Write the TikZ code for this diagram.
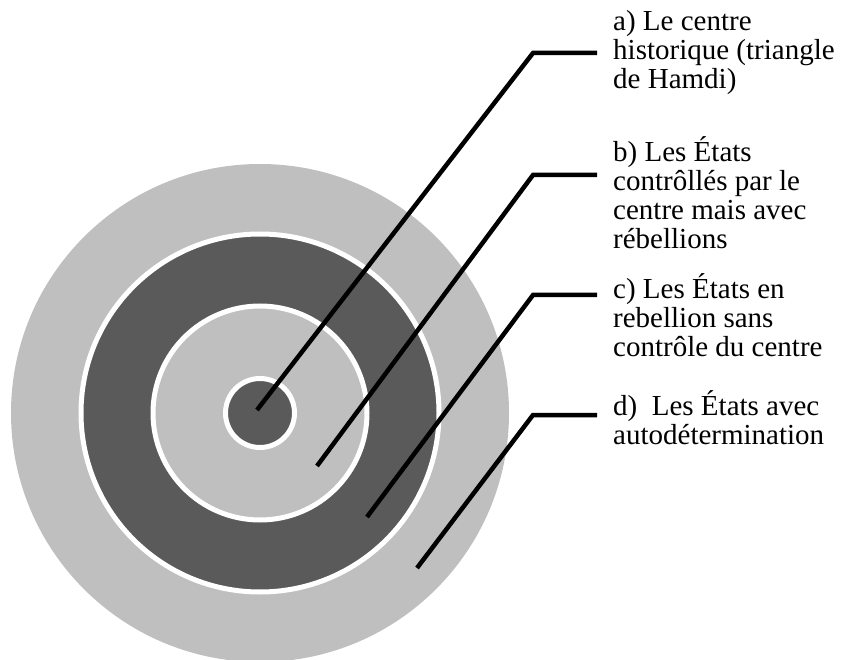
\documentclass[tikz,border=0pt]{standalone}
\usepackage{fontspec}
\setmainfont{Liberation Serif}
\definecolor{ringlight}{HTML}{BFBFBF}
\definecolor{ringdark}{HTML}{5A5A5A}
\tikzset{
  ring/.style={circle, inner sep=0pt, line width=5pt},
  leader/.style={line width=4.5pt, black, line join=miter},
  lbl/.style={anchor=base west, inner sep=0pt, font=\fontsize{29}{29}\selectfont}
}
\begin{document}
\begin{tikzpicture}[x=1pt,y=-1pt]
\useasboundingbox (0,0) rectangle (841,660);
\coordinate (c) at (260,413);
% rings
\node[ring, fill=ringlight, minimum size=498pt] (outer) at (c) {};
\node[ring, fill=ringdark, draw=white, minimum size=358pt] (ringd) at (c) {};
\node[ring, fill=ringlight, draw=white, minimum size=214pt] (ringc) at (c) {};
\node[ring, fill=ringdark, draw=white, minimum size=69pt] (core) at (c) {};
% labels
\node[lbl] (la) at (613,31) {\begin{tabular}[t]{@{}l@{}}a) Le centre\\historique (triangle\\de Hamdi)\end{tabular}};
\node[lbl] (lb) at (613,162) {\begin{tabular}[t]{@{}l@{}}b) Les États\\contrôllés par le\\centre mais avec\\rébellions\end{tabular}};
\node[lbl] (lc) at (613,299) {\begin{tabular}[t]{@{}l@{}}c) Les États en\\rebellion sans\\contrôle du centre\end{tabular}};
\node[lbl] (ld) at (613,415) {\begin{tabular}[t]{@{}l@{}}d)\ \ Les États avec\\autodétermination\end{tabular}};
% leader coordinates
\coordinate (a0) at (257,410); \coordinate (a1) at (533,53);  \coordinate (a2) at (597,53);
\coordinate (b0) at (317,466); \coordinate (b1) at (533,175); \coordinate (b2) at (597,175);
\coordinate (c0) at (367,517); \coordinate (c1) at (533,295); \coordinate (c2) at (597,295);
\coordinate (d0) at (417,568); \coordinate (d1) at (533,415); \coordinate (d2) at (597,415);
\draw[leader] (a0) -- (a1) -- (a2);
\draw[leader] (b0) -- (b1) -- (b2);
\draw[leader] (c0) -- (c1) -- (c2);
\draw[leader] (d0) -- (d1) -- (d2);
\end{tikzpicture}
\end{document}
